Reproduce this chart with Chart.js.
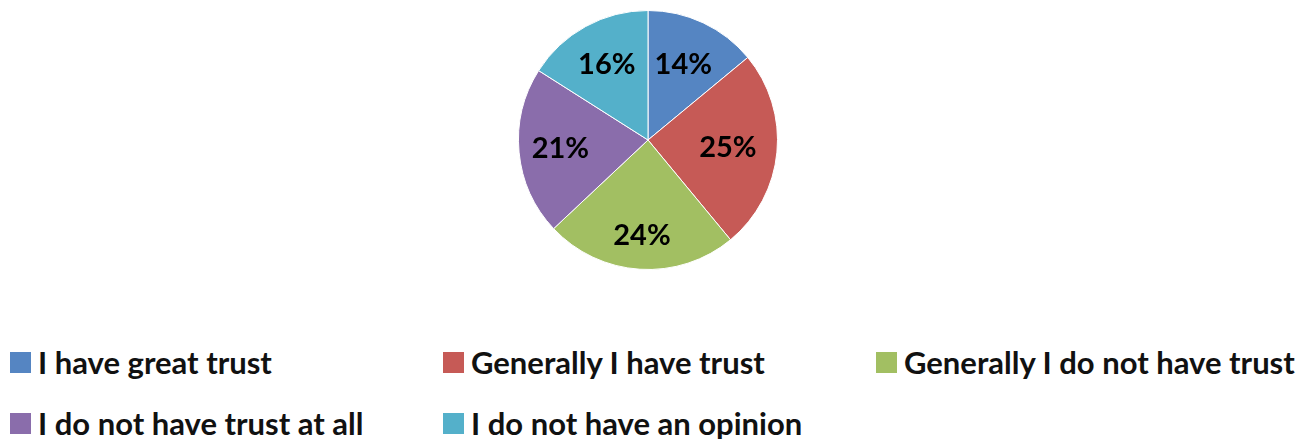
<!DOCTYPE html>
<html>
<head>
<meta charset="utf-8">
<script src="https://cdn.jsdelivr.net/npm/chart.js@4/dist/chart.umd.min.js"></script>
<style>
    html, body { margin: 0; padding: 0; background: #fff; }
    body { width: 1309px; height: 439px; overflow: hidden; position: relative; }
    #pieWrap { position: absolute; left: 0; top: 0; width: 1309px; height: 280px; }
    #legend { position: absolute; left: 10px; top: 343px; width: 1299px; }
    .item { position: absolute; display: flex; align-items: center; font-family: Lato, sans-serif;
            font-weight: 700; font-size: 31px; color: #111; white-space: nowrap; line-height: 38px; }
    .box { width: 21px; height: 21px; margin-right: 7px; }
</style>
</head>
<body>
<div id="pieWrap"><canvas id="pie"></canvas></div>
<div id="legend"></div>
<script>
const labels = ['I have great trust', 'Generally I have trust', 'Generally I do not have trust',
                'I do not have trust at all', 'I do not have an opinion'];
const shares = [14, 25, 24, 21, 16];
const colors = ['#5585c2', '#c65a56', '#a2bf62', '#8a6dab', '#54b0ca'];

// percentage text inside each slice (distance from centre as fraction of radius)
const labelDist = [0.64, 0.62, 0.74, 0.68, 0.66];
const sliceLabels = {
    id: 'sliceLabels',
    afterDatasetsDraw(chart) {
        const ctx = chart.ctx;
        const meta = chart.getDatasetMeta(0);
        ctx.save();
        ctx.font = 'bold 29px Lato, sans-serif';
        ctx.fillStyle = '#000';
        ctx.textAlign = 'center';
        ctx.textBaseline = 'middle';
        meta.data.forEach((arc, i) => {
            const p = arc.getProps(['x', 'y', 'startAngle', 'endAngle', 'outerRadius'], true);
            const mid = (p.startAngle + p.endAngle) / 2;
            const r = p.outerRadius * labelDist[i];
            ctx.fillText(shares[i] + '%', p.x + Math.cos(mid) * r, p.y + Math.sin(mid) * r);
        });
        ctx.restore();
    }
};

const chart = new Chart(document.getElementById('pie'), {
    type: 'pie',
    data: {
        labels: labels,
        datasets: [{
            data: shares,
            backgroundColor: colors,
            borderColor: '#ffffff',
            borderWidth: 1
        }]
    },
    options: {
        responsive: true,
        maintainAspectRatio: false,
        animation: false,
        layout: { padding: { top: 10, bottom: 10, left: 0, right: 13 } },
        plugins: {
            legend: { display: false },
            tooltip: { enabled: false }
        }
    },
    plugins: [sliceLabels]
});

// legend in a 3-column grid, like the original
const legendEl = document.getElementById('legend');
const colX = [0, 433, 866];
const rowY = [0, 61];
labels.forEach((name, i) => {
    const item = document.createElement('div');
    item.className = 'item';
    item.style.left = colX[i % 3] + 'px';
    item.style.top = rowY[Math.floor(i / 3)] + 'px';
    const box = document.createElement('span');
    box.className = 'box';
    box.style.background = colors[i];
    item.appendChild(box);
    item.appendChild(document.createTextNode(name));
    legendEl.appendChild(item);
});
</script>
</body>
</html>
